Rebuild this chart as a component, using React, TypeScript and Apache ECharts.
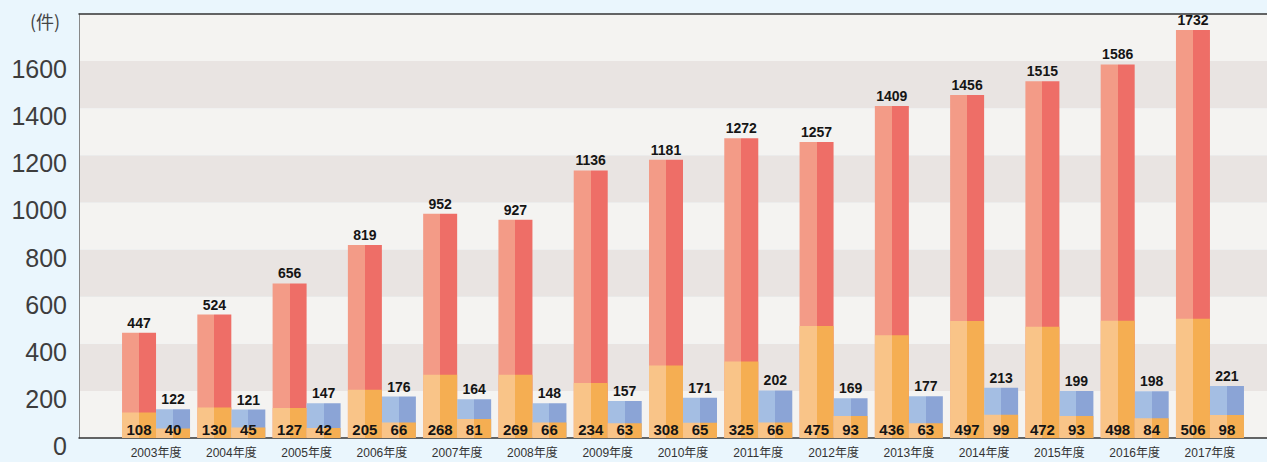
import React, { useEffect, useRef } from "react";
import * as echarts from "echarts";

const years = ["2003年度","2004年度","2005年度","2006年度","2007年度","2008年度","2009年度","2010年度","2011年度","2012年度","2013年度","2014年度","2015年度","2016年度","2017年度"];
const redTotals = [447, 524, 656, 819, 952, 927, 1136, 1181, 1272, 1257, 1409, 1456, 1515, 1586, 1732];
const redOrange = [108, 130, 127, 205, 268, 269, 234, 308, 325, 475, 436, 497, 472, 498, 506];
const blueTotals = [122, 121, 147, 176, 164, 148, 157, 171, 202, 169, 177, 213, 199, 198, 221];
const blueOrange = [40, 45, 42, 66, 81, 66, 63, 65, 66, 93, 63, 99, 93, 84, 98];
const yTicks = { min: 0, max: 1800, interval: 200 };

const FONT = "'Liberation Sans', Arial, 'Noto Sans CJK JP', sans-serif";

function twoTone(left: string, right: string) {
  return {
    type: "linear", x: 0, y: 0, x2: 1, y2: 0,
    colorStops: [
      { offset: 0, color: left }, { offset: 0.5, color: left },
      { offset: 0.5, color: right }, { offset: 1, color: right },
    ],
  };
}

export default function App() {
  const ref = useRef<HTMLDivElement>(null);
  useEffect(() => {
    if (!ref.current) return;
    const chart = echarts.init(ref.current, undefined, { renderer: "svg" });
    const topLabel = { show: true, position: "top", distance: 3, fontSize: 14, fontWeight: "bold", color: "#151515", fontFamily: FONT };
    const botLabel = { show: true, position: "insideBottom", distance: 1, fontSize: 15, fontWeight: "bold", color: "#151515", fontFamily: FONT };
    chart.setOption({
      animation: false,
      backgroundColor: "#eaf6fd",
      grid: [
        { left: 79, right: 0, top: 14, bottom: 24 },
        { left: 118.4, right: 19.4, top: 14, bottom: 24 },
      ],
      xAxis: [
        { gridIndex: 0, type: "value", min: 0, max: 1, show: true, position: "bottom",
          axisLine: { show: true, lineStyle: { color: "#333", width: 1.5 } },
          axisTick: { show: false }, axisLabel: { show: false }, splitLine: { show: false } },
        { gridIndex: 1, type: "category", data: years, position: "bottom",
          axisLine: { show: false }, axisTick: { show: false },
          axisLabel: { fontSize: 12, color: "#333", margin: 9, fontFamily: FONT } },
        { gridIndex: 1, type: "category", data: years, show: false },
        { gridIndex: 0, type: "value", min: 0, max: 1, show: true, position: "top",
          axisLine: { show: true, lineStyle: { color: "#333", width: 1.5 } },
          axisTick: { show: false }, axisLabel: { show: false }, splitLine: { show: false } },
      ],
      yAxis: [
        { gridIndex: 0, type: "value", min: yTicks.min, max: yTicks.max, interval: yTicks.interval,
          axisLine: { show: true, lineStyle: { color: "#888", width: 1 } },
          axisTick: { show: false },
          splitLine: { show: false },
          splitArea: { show: true, areaStyle: { color: ["#f4f3f1", "#e9e4e2"] } },
          axisLabel: { fontSize: 25, color: "#3d3d3d", margin: 12, fontFamily: FONT,
            verticalAlign: "top", lineHeight: 16,
            formatter: (v: number) => (v === yTicks.max ? "" : String(v)) } },
        { gridIndex: 1, type: "value", min: yTicks.min, max: yTicks.max, show: false },
      ],
      graphic: [
        { type: "text", left: 30, top: 12, style: { text: "(件)", fontSize: 18, fill: "#444", fontFamily: "'Noto Sans CJK JP', sans-serif" } },
      ],
      series: [
        { type: "bar", name: "red", xAxisIndex: 1, yAxisIndex: 1, data: redTotals, barWidth: 34, barGap: "0%",
          itemStyle: { color: twoTone("#f39b87", "#ee6e67") }, label: topLabel },
        { type: "bar", name: "blue", xAxisIndex: 1, yAxisIndex: 1, data: blueTotals, barWidth: 34, barGap: "0%",
          itemStyle: { color: twoTone("#a4bee3", "#8ba4d6") }, label: topLabel },
        { type: "bar", name: "redOrange", xAxisIndex: 2, yAxisIndex: 1, data: redOrange, barWidth: 34, barGap: "0%",
          itemStyle: { color: twoTone("#f9c488", "#f5ae52") }, label: botLabel },
        { type: "bar", name: "blueOrange", xAxisIndex: 2, yAxisIndex: 1, data: blueOrange, barWidth: 34, barGap: "0%",
          itemStyle: { color: twoTone("#f9c488", "#f5ae52") }, label: botLabel },
      ],
    });
    return () => chart.dispose();
  }, []);
  return <div ref={ref} style={{ position: "fixed", left: 0, top: 0, width: 1267, height: 462 }} />;
}
